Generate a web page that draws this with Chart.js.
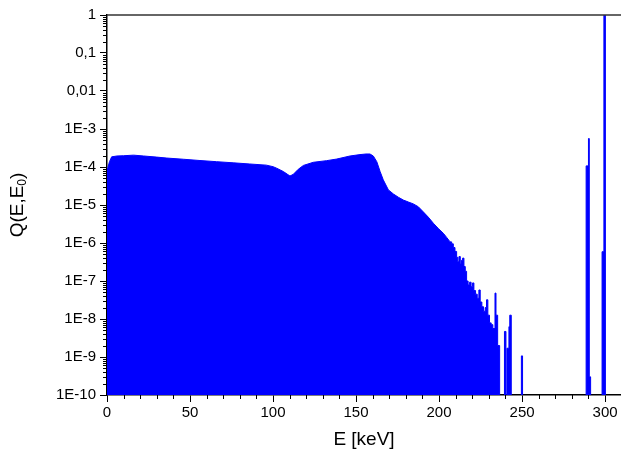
<!DOCTYPE html>
<html><head><meta charset="utf-8">
<script src="https://cdn.jsdelivr.net/npm/chart.js@4.4.0/dist/chart.umd.min.js"></script>
<style>html,body{margin:0;padding:0;background:#fff}canvas{display:block}</style>
</head><body>
<canvas id="c" width="621" height="457"></canvas>
<script>
// Smooth continuum (E in keV, Q values)
const continuumE = [0, 0.6, 1.5, 2.8, 6, 10, 16, 22, 30, 36, 46, 56, 66, 76, 86, 96, 100, 102.2, 106.2, 108.5, 110.2, 112.2, 115.2, 118.3, 124.3, 132.3, 138.4, 146.4, 152.4, 156, 158.4, 160.4, 162.5, 164.5, 166.4, 169.5, 172.5, 175.5, 178.5, 181.5, 184.5, 187.5, 190.5, 193.5, 196.6, 199.6, 202.6, 204.6, 206.6];
const continuumQ = [9.0e-5, 1.0e-4, 1.38e-4, 1.85e-4, 1.95e-4, 1.98e-4, 2.05e-4, 1.95e-4, 1.82e-4, 1.72e-4, 1.6e-4, 1.48e-4, 1.38e-4, 1.29e-4, 1.2e-4, 1.12e-4, 1.02e-4, 9.3e-5, 7.6e-5, 6.5e-5, 5.8e-5, 6.4e-5, 8.7e-5, 1.1e-4, 1.33e-4, 1.47e-4, 1.62e-4, 1.95e-4, 2.12e-4, 2.2e-4, 2.2e-4, 1.95e-4, 1.38e-4, 7.6e-5, 4.6e-5, 2.5e-5, 1.95e-5, 1.6e-5, 1.35e-5, 1.2e-5, 1.07e-5, 9.0e-6, 6.6e-6, 4.8e-6, 3.3e-6, 2.4e-6, 1.8e-6, 1.4e-6, 1.08e-6];
// Noisy tail and lines (bin left edges, Q per bin; 1e-11 = empty bin)
const tailE = [206.6, 207.6, 208.6, 209.6, 210.6, 211.3, 212.0, 212.8, 213.5, 214.2, 215.0, 215.8, 216.6, 217.5, 218.4, 219.3, 220.2, 221.0, 222.0, 223.0, 224.0, 224.8, 225.8, 226.8, 227.8, 228.6, 229.4, 230.4, 231.4, 232.4, 233.7, 234.3, 235.3, 236.5, 239.4, 240.3, 240.9, 242.1, 242.6, 243.5, 249.6, 250.3, 288.6, 290.0, 290.5, 291.3, 298.2, 299.3, 300.2, 309.6];
const tailQ = [1.07e-6, 9.5e-7, 7.6e-7, 6.0e-7, 4.2e-7, 3.2e-7, 4.4e-7, 2.8e-7, 3.5e-7, 4.0e-7, 2.4e-7, 1.8e-7, 1.0e-7, 7.9e-8, 9.3e-8, 7.1e-8, 8.9e-8, 5.6e-8, 4.5e-8, 3.5e-8, 5.8e-8, 2.8e-8, 2.1e-8, 1.6e-8, 2.0e-8, 3.2e-8, 1.26e-8, 7.9e-9, 7.1e-9, 5.6e-9, 4.8e-8, 1.26e-8, 2.0e-9, 1e-11, 4.7e-9, 1e-11, 1.7e-9, 6.3e-9, 1.26e-8, 1e-11, 1.07e-9, 1e-11, 1.07e-4, 5.6e-4, 3.0e-10, 1e-11, 5.9e-7, 1, 1e-11, 1e-11];

const xTicks = [0, 50, 100, 150, 200, 250, 300];
const yTicks = [1e-10, 1e-9, 1e-8, 1e-7, 1e-6, 1e-5, 1e-4, 1e-3, 1e-2, 1e-1, 1];
const yTickLabels = ['1E-10', '1E-9', '1E-8', '1E-7', '1E-6', '1E-5', '1E-4', '1E-3', '0,01', '0,1', '1'];
const xTitle = 'E [keV]';
const yTitleMain = 'Q(E,E';
const yTitleSub = '0';

const FONT = "'Liberation Sans', Arial, sans-serif";
const BLUE = '#0000FF';
const TITLE_SIZE = 19;

const decor = {
  id: 'decor',
  afterDraw(chart) {
    const {ctx, chartArea: a, scales: {x, y}} = chart;
    ctx.save();
    ctx.strokeStyle = '#000';
    ctx.lineWidth = 1;
    for (let d = -10; d < 0; d++) {
      for (let m = 2; m <= 9; m++) {
        const py = Math.round(y.getPixelForValue(m * Math.pow(10, d))) + 0.5;
        ctx.beginPath(); ctx.moveTo(a.left - 4, py); ctx.lineTo(a.left, py); ctx.stroke();
      }
    }
    for (let v = 10; v < x.max; v += 10) {
      if (v % 50 === 0) continue;
      const px = Math.round(x.getPixelForValue(v)) + 0.5;
      ctx.beginPath(); ctx.moveTo(px, a.bottom); ctx.lineTo(px, a.bottom + 4); ctx.stroke();
    }
    ctx.strokeStyle = '#333';
    ctx.lineWidth = 1.5;
    ctx.beginPath(); ctx.moveTo(a.left, a.top); ctx.lineTo(a.right, a.top); ctx.stroke();
    // Y title with subscript
    ctx.translate(18, (a.top + a.bottom) / 2);
    ctx.rotate(-Math.PI / 2);
    ctx.fillStyle = '#000';
    ctx.textBaseline = 'middle';
    ctx.font = TITLE_SIZE + 'px ' + FONT;
    const w1 = ctx.measureText(yTitleMain).width;
    ctx.font = '12px ' + FONT;
    const w2 = ctx.measureText(yTitleSub).width;
    ctx.font = TITLE_SIZE + 'px ' + FONT;
    const w3 = ctx.measureText(')').width;
    let sx = -(w1 + w2 + w3) / 2;
    ctx.textAlign = 'left';
    ctx.fillText(yTitleMain, sx, 0);
    ctx.font = '12px ' + FONT;
    ctx.fillText(yTitleSub, sx + w1, 5);
    ctx.font = TITLE_SIZE + 'px ' + FONT;
    ctx.fillText(')', sx + w1 + w2, 0);
    ctx.restore();
  }
};

new Chart(document.getElementById('c'), {
  type: 'line',
  data: {
    datasets: [
      {
        data: continuumE.map((e, i) => ({x: e, y: continuumQ[i]})),
        borderColor: BLUE, backgroundColor: BLUE, borderWidth: 1,
        pointRadius: 0, fill: 'start', tension: 0
      },
      {
        data: tailE.map((e, i) => ({x: e, y: tailQ[i]})),
        borderColor: BLUE, backgroundColor: BLUE, borderWidth: 1,
        pointRadius: 0, fill: 'start', stepped: true
      }
    ]
  },
  options: {
    responsive: false, animation: false, devicePixelRatio: 1,
    layout: {padding: {top: 15, left: 0, right: 0, bottom: 0}},
    plugins: {legend: {display: false}, tooltip: {enabled: false}},
    scales: {
      x: {
        type: 'linear', min: 0, max: 309.6, z: 1,
        afterBuildTicks: s => { s.ticks = xTicks.map(v => ({value: v})); },
        afterFit: s => { s.height = 62; },
        grid: {drawOnChartArea: false, drawTicks: true, tickLength: 7, color: '#000', lineWidth: 1},
        border: {display: true, color: '#000', width: 1.5},
        ticks: {font: {family: FONT, size: 15}, color: '#000', padding: 2, maxRotation: 0, autoSkip: false},
        title: {display: true, text: xTitle, font: {family: FONT, size: TITLE_SIZE}, color: '#000', padding: {top: 0, bottom: 6}}
      },
      y: {
        type: 'logarithmic', min: 1e-10, max: 1, z: 1,
        afterBuildTicks: s => { s.ticks = yTicks.map(v => ({value: v})); },
        afterFit: s => { s.width = 107; },
        grid: {drawOnChartArea: false, drawTicks: true, tickLength: 7, color: '#000', lineWidth: 1},
        border: {display: true, color: '#000', width: 1.5},
        ticks: {callback: (v, i) => yTickLabels[i], font: {family: FONT, size: 15}, color: '#000', padding: 4, autoSkip: false}
      }
    }
  },
  plugins: [decor]
});
</script>
</body></html>
